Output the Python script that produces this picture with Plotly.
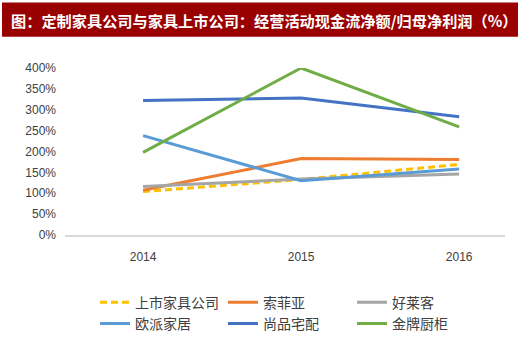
import plotly.graph_objects as go

years = ["2014", "2015", "2016"]
series_names = ["上市家具公司", "索菲亚", "好莱客", "欧派家居", "尚品宅配", "金牌厨柜"]
v_listed = [104, 133, 169]
v_sofia = [107, 183, 181]
v_holike = [116, 134, 146]
v_oppein = [238, 130, 158]
v_shangpin = [322, 328, 283]
v_goldenhome = [198, 400, 259]
series_values = [v_listed, v_sofia, v_holike, v_oppein, v_shangpin, v_goldenhome]
colors = ["#FFC000", "#ED7D31", "#A5A5A5", "#5B9BD5", "#4472C4", "#70AD47"]
dashes = ["7px,4px", "solid", "solid", "solid", "solid", "solid"]
legend_ids = ["legend", "legend2", "legend3", "legend", "legend2", "legend3"]
title_text = "图：定制家具公司与家具上市公司：经营活动现金流净额/归母净利润（%）"

fig = go.Figure()
for name, vals, c, d, lg in zip(series_names, series_values, colors, dashes, legend_ids):
    fig.add_trace(go.Scatter(x=years, y=vals, name=name, mode="lines", legend=lg,
                             line=dict(color=c, width=3, dash=d), cliponaxis=False))

L, R, T, B = 65, 15, 68, 113
W, H = 520, 352
pw = W - L - R
ph = H - T - B

def px_x(x):
    return (x - L) / pw

def px_y(y):
    return (H - B - y) / ph

fig.add_shape(type="rect", xref="paper", yref="paper",
              x0=px_x(2), x1=px_x(518), y0=px_y(36), y1=px_y(1),
              fillcolor="#990000", line=dict(width=0), layer="below")
fig.add_annotation(text=title_text, xref="paper", yref="paper",
                   x=px_x(9), y=px_y(18.5), xanchor="left", yanchor="middle",
                   showarrow=False,
                   font=dict(family="Noto Sans CJK SC", size=15.2, color="white", weight="bold"))

def legend_at(xpx):
    return dict(orientation="v", x=px_x(xpx), xanchor="left", y=px_y(292), yanchor="top",
                bgcolor="rgba(0,0,0,0)", tracegroupgap=0,
                font=dict(family="Noto Sans CJK SC", size=14, color="#404040"))

fig.update_layout(
    width=W, height=H,
    margin=dict(l=L, r=R, t=T, b=B),
    paper_bgcolor="white", plot_bgcolor="white",
    showlegend=True,
    legend=legend_at(95),
    legend2=legend_at(223),
    legend3=legend_at(352),
    font=dict(family="Liberation Sans", size=12, color="#404040"),
)
fig.update_xaxes(type="category", range=[-0.494, 2.29], showgrid=False,
                 showline=True, linecolor="#D9D9D9", linewidth=1.5, ticks="",
                 ticklabelstandoff=10,
                 tickfont=dict(family="Liberation Sans", size=12, color="#404040"))
fig.update_yaxes(range=[0, 400], dtick=50, ticksuffix="%", showgrid=False,
                 zeroline=False, showline=False, ticks="",
                 ticklabelstandoff=8,
                 tickfont=dict(family="Liberation Sans", size=12, color="#404040"))

fig.write_html("out.html")
